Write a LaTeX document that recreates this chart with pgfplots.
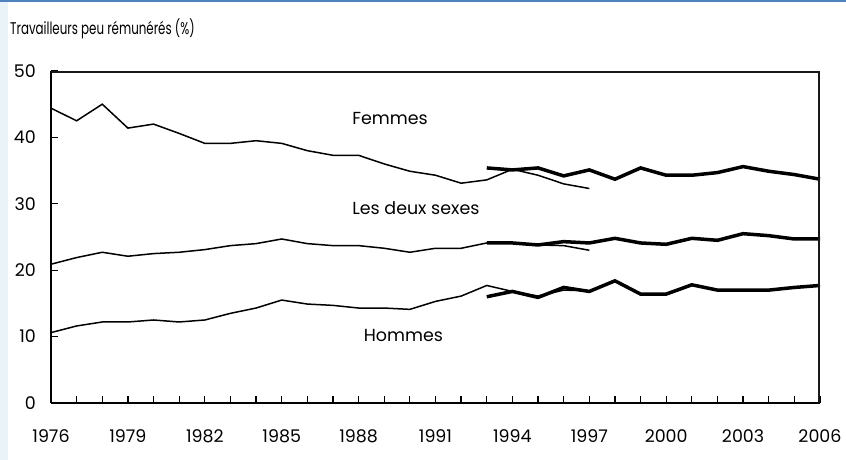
\documentclass[border=0pt]{standalone}
\usepackage{pgfplots}
\pgfplotsset{compat=1.18}
\usepackage{fontspec}
\setmainfont{Poppins}
\definecolor{strip}{RGB}{234,243,248}
\definecolor{topline}{RGB}{79,129,189}
\definecolor{frame}{RGB}{25,25,25}
\begin{document}
\begin{tikzpicture}[x=1bp,y=1bp]
\fill[white] (0,0) rectangle (846,460);
\fill[strip] (0,0) rectangle (8,460);
\fill[topline] (0,458) rectangle (846,460);
\node[anchor=west,inner sep=0pt,font=\fontsize{17}{19}\selectfont] at (10,431) {\scalebox{0.70}[1]{Travailleurs peu rémunérés (\%)}};
\begin{axis}[
  at={(51bp,57bp)}, anchor=south west, scale only axis,
  width=769bp, height=332bp,
  xmin=1976, xmax=2006, ymin=0, ymax=50,
  axis lines=left,
  axis line style={line width=1.8bp, -},
  xtick={1976,1979,...,2006},
  minor xtick={1976,...,2006},
  ytick={0,10,...,50},
  tick align=inside,
  major tick length=7bp, minor tick length=7bp,
  tick style={line width=1.3bp, black},
  xticklabel style={inner sep=0pt, anchor=north, yshift=-26bp},
  yticklabel style={inner sep=0pt, anchor=east, xshift=-15bp},
  ticklabel style={font=\fontsize{17.5}{19}\selectfont},
  /pgf/number format/assume math mode=true,
  xticklabel={\pgfmathprintnumber[1000 sep={}]{\tick}},
  clip=false,
]
% Femmes thin
\addplot[black, line width=1.5bp] coordinates {
(1976,44.4)(1977,42.5)(1978,45.0)(1979,41.4)(1980,42.0)(1981,40.6)(1982,39.1)(1983,39.1)(1984,39.5)(1985,39.1)
(1986,38.0)(1987,37.3)(1988,37.3)(1989,36.0)(1990,34.9)(1991,34.3)(1992,33.1)(1993,33.6)(1994,35.2)(1995,34.3)(1996,33.0)(1997,32.3)};
% Les deux sexes thin
\addplot[black, line width=1.5bp] coordinates {
(1976,20.9)(1977,21.9)(1978,22.7)(1979,22.1)(1980,22.5)(1981,22.7)(1982,23.1)(1983,23.7)(1984,24.0)(1985,24.7)
(1986,24.0)(1987,23.7)(1988,23.7)(1989,23.3)(1990,22.7)(1991,23.3)(1992,23.3)(1993,24.1)(1994,24.1)(1995,23.8)(1996,23.7)(1997,23.0)};
% Hommes thin
\addplot[black, line width=1.5bp] coordinates {
(1976,10.6)(1977,11.6)(1978,12.2)(1979,12.2)(1980,12.5)(1981,12.2)(1982,12.5)(1983,13.5)(1984,14.3)(1985,15.5)
(1986,14.9)(1987,14.7)(1988,14.3)(1989,14.3)(1990,14.1)(1991,15.3)(1992,16.1)(1993,17.7)(1994,16.8)(1995,16.1)(1996,17.0)(1997,16.9)};
% Femmes thick
\addplot[black, line width=3.5bp] coordinates {
(1993,35.4)(1994,35.1)(1995,35.4)(1996,34.2)(1997,35.1)(1998,33.7)(1999,35.4)(2000,34.3)(2001,34.3)(2002,34.7)(2003,35.6)(2004,34.9)(2005,34.4)(2006,33.7)};
% Les deux sexes thick
\addplot[black, line width=3.5bp] coordinates {
(1993,24.1)(1994,24.1)(1995,23.8)(1996,24.3)(1997,24.1)(1998,24.8)(1999,24.1)(2000,23.9)(2001,24.8)(2002,24.5)(2003,25.5)(2004,25.2)(2005,24.7)(2006,24.7)};
% Hommes thick
\addplot[black, line width=3.5bp] coordinates {
(1993,16.0)(1994,16.8)(1995,15.9)(1996,17.4)(1997,16.8)(1998,18.4)(1999,16.4)(2000,16.4)(2001,17.8)(2002,17.0)(2003,17.0)(2004,17.0)(2005,17.4)(2006,17.7)};
\node[anchor=west,inner sep=0pt,font=\fontsize{17.5}{19}\selectfont] at (axis cs:1987.75,42.9) {Femmes};
\node[anchor=west,inner sep=0pt,font=\fontsize{17.5}{19}\selectfont] at (axis cs:1987.75,29.4) {Les deux sexes};
\node[anchor=west,inner sep=0pt,font=\fontsize{17.5}{19}\selectfont] at (axis cs:1988.2,10.1) {Hommes};
\end{axis}
\draw[frame, line width=2.2bp] (51,388) -- (819,388) -- (819,57);
\end{tikzpicture}
\end{document}
